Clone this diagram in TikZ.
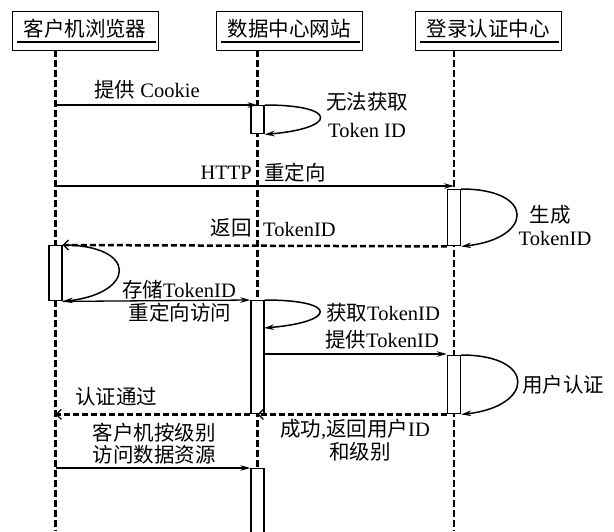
\documentclass[tikz,border=0pt]{standalone}
\usepackage{fontspec}
\setmainfont{Liberation Serif}
\newfontfamily\cjk{Noto Sans CJK SC}
\usetikzlibrary{arrows.meta,calc}
\newcommand\zh[1]{{\cjk #1}}
\begin{document}
\begin{tikzpicture}[x=1pt,y=-1pt,
 lbl/.style={inner sep=0pt, font=\fontsize{20.5}{22}\selectfont},
 headbox/.style={draw, line width=1.4pt, minimum width=146pt, minimum height=39pt, anchor=north west, inner sep=0pt},
 uline/.style={line width=1.6pt},
 life/.style={line width=2.8pt, dash pattern=on 7pt off 3pt},
 act/.style={draw, fill=white, line width=1.4pt, minimum width=13pt, inner sep=0pt, anchor=north},
 msg/.style={line width=1.3pt, -{Stealth[length=10pt,width=5.5pt]}},
 ret/.style={line width=2.5pt, dash pattern=on 6pt off 3pt, -{Straight Barb[length=5pt,width=10pt,line width=1.2pt]}},
 selfmsg/.style={line width=1.5pt, -{Stealth[length=10pt,width=5.5pt]}}]
\useasboundingbox (0,0) rectangle (614,531);

% headers
\node[headbox] (h1) at (12,11) {};
\node[headbox] (h2) at (216,11) {};
\node[headbox] (h3) at (415,11) {};
\node[lbl] (t1) at (85,29) {\zh{客户机浏览器}};
\node[lbl] (t2) at (289,29) {\zh{数据中心网站}};
\node[lbl] (t3) at (488,29) {\zh{登录认证中心}};
\draw[uline] (17,42) -- (156,42);
\draw[uline] (221,42) -- (360,42);
\draw[uline] (420,42) -- (559,42);

% lifelines
\coordinate (L1) at (55.5,50);
\coordinate (L2) at (257.5,50);
\coordinate (L3) at (454,50);
\coordinate (B1) at (55.5,531);
\coordinate (B2) at (257.5,531);
\coordinate (B3) at (454,531);
\draw[life] (L1) -- (B1);
\draw[life] (L2) -- (B2);
\draw[life] (L3) -- (B3);

% activations
\node[act, minimum height=28pt] (d1) at (257.5,105) {};
\node[act, minimum height=56pt] (g1) at (454,189) {};
\node[act, minimum height=55pt] (c1) at (55.5,245) {};
\node[act, minimum height=113pt] (d2) at (257.5,300) {};
\node[act, minimum height=58pt] (g2) at (454,355) {};
\node[act, minimum height=80pt] (d3) at (257.5,468) {};
\coordinate (d2s) at (264,328);

% messages
\draw[msg] (L1 |- d1.north) -- (d1.north);
\draw[selfmsg] (d1.north east) .. controls +(75,0) and +(72,-6) .. (d1.south east);
\draw[msg] (L1 |- 0,186) coordinate (m2s) -- (L3 |- m2s);
\draw[selfmsg] (g1.north east) .. controls +(75,0) and +(72,-8) .. (g1.south east);
\draw[ret] (g1.south west) -- (c1.north east);
\draw[selfmsg] (c1.north east) .. controls +(76,0) and +(73,-8) .. (c1.south east);
\draw[msg] (c1.south east) -- (d2.north west);
\draw[selfmsg] (d2.north east) .. controls +(75,0) and +(72,-6) .. (d2s);
\draw[msg] (d2.east |- 0,354) coordinate (m7s) -- (g2.north west |- m7s);
\draw[selfmsg] (g2.north east) .. controls +(76,0) and +(73,-8) .. (g2.south east);
\draw[ret] (g2.south west) -- (d2.south);
\draw[ret] (d2.south west) -- (L1 |- d2.south);
\draw[msg] (L1 |- d3.north) -- (d3.north west);

% labels
\node[lbl] (n1) at (147,90) {\zh{提供} Cookie};
\node[lbl] (n2) at (367,102) {\zh{无法获取}};
\node[lbl] (n3) at (367,130) {Token ID};
\node[lbl,anchor=east] (n4) at (252,173) {HTTP};
\node[lbl,anchor=west] (n5) at (264,173) {\zh{重定向}};
\node[lbl] (n6) at (550,215) {\zh{生成}};
\node[lbl] (n7) at (555,238) {TokenID};
\node[lbl,anchor=east] (n8) at (252,228) {\zh{返回}};
\node[lbl,anchor=west] (n9) at (263,229) {TokenID};
\node[lbl] (n10) at (179,290) {\zh{存储}TokenID};
\node[lbl] (n11) at (180,313) {\zh{重定向访问}};
\node[lbl] (n12) at (383,313) {\zh{获取}TokenID};
\node[lbl] (n13) at (382,340) {\zh{提供}TokenID};
\node[lbl] (n14) at (563,385) {\zh{用户认证}};
\node[lbl] (n15) at (116,397) {\zh{认证通过}};
\node[lbl] (n16) at (355,429) {\zh{成功},\zh{返回用户}ID};
\node[lbl] (n17) at (360,452) {\zh{和级别}};
\node[lbl] (n18) at (154,433) {\zh{客户机按级别}};
\node[lbl] (n19) at (154,455) {\zh{访问数据资源}};
\end{tikzpicture}
\end{document}
